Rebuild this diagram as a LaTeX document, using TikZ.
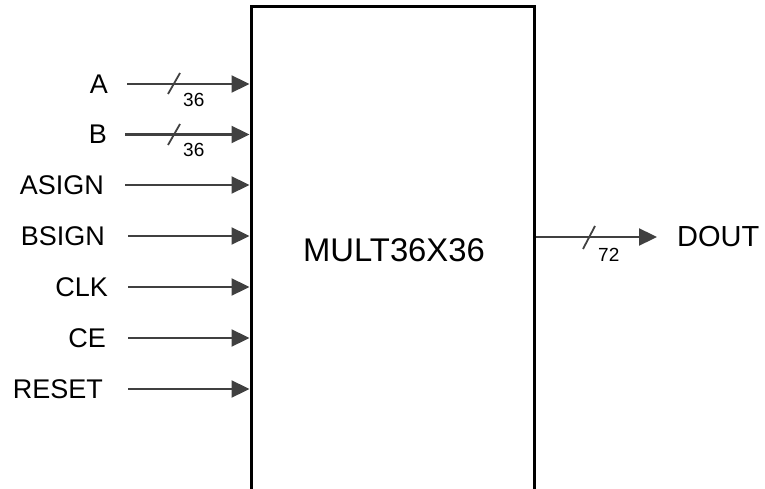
\documentclass[tikz,border=0pt]{standalone}
\usepackage{fontspec}
\setmainfont{Liberation Sans}
\usetikzlibrary{arrows.meta}
\definecolor{sigc}{HTML}{404040}
\begin{document}
\begin{tikzpicture}[x=1pt,y=-1pt,
  lbl/.style={inner sep=0pt,anchor=east,font=\fontsize{27}{30}\selectfont},
  sig/.style={draw=sigc,line width=2.3pt,-{Triangle[length=18pt,width=17pt]}},
  slash/.style={draw=sigc,line width=1.8pt},
  bus/.style={inner sep=0pt,anchor=west,font=\fontsize{19}{21}\selectfont}]
\useasboundingbox (0,0) rectangle (765,489);
\clip (0,0) rectangle (765,489);
\node[draw=black,line width=3pt,minimum width=283pt,minimum height=492pt,inner sep=0pt] (mult) at (392.5,253) {};
\node[font=\fontsize{32.8}{36}\selectfont,inner sep=0pt] (title) at (394,250) {MULT36X36};
\node[lbl] (A) at (108,84) {A};
\node[lbl] (B) at (107,134.5) {B};
\node[lbl] (ASIGN) at (104,185) {ASIGN};
\node[lbl] (BSIGN) at (105,236) {BSIGN};
\node[lbl] (CLK) at (108,287) {CLK};
\node[lbl] (CE) at (106,338) {CE};
\node[lbl] (RESET) at (103,389) {RESET};
\draw[sig] ([xshift=19pt]A.east) -- (A -| mult.west);
\draw[sig] ([xshift=18pt]B.east) -- (B -| mult.west);
\draw[sig] ([xshift=21pt]ASIGN.east) -- (ASIGN -| mult.west);
\draw[sig] ([xshift=23pt]BSIGN.east) -- (BSIGN -| mult.west);
\draw[sig] ([xshift=20pt]CLK.east) -- (CLK -| mult.west);
\draw[sig] ([xshift=22pt]CE.east) -- (CE -| mult.west);
\draw[sig] ([xshift=25pt]RESET.east) -- (RESET -| mult.west);
\draw[slash] (168,94) -- (180,73);
\node[bus] (na) at (183,100) {36};
\draw[slash] (168,145) -- (180,124);
\node[bus] (nb) at (183,150) {36};
\node[lbl,anchor=west,font=\fontsize{29}{32}\selectfont] (DOUT) at (677,237) {DOUT};
\coordinate (dtip) at (657,237);
\draw[sig] (mult.east |- DOUT) -- (dtip);
\draw[slash] (583,249) -- (595,226);
\node[bus] (nd) at (598,255) {72};
\end{tikzpicture}
\end{document}
